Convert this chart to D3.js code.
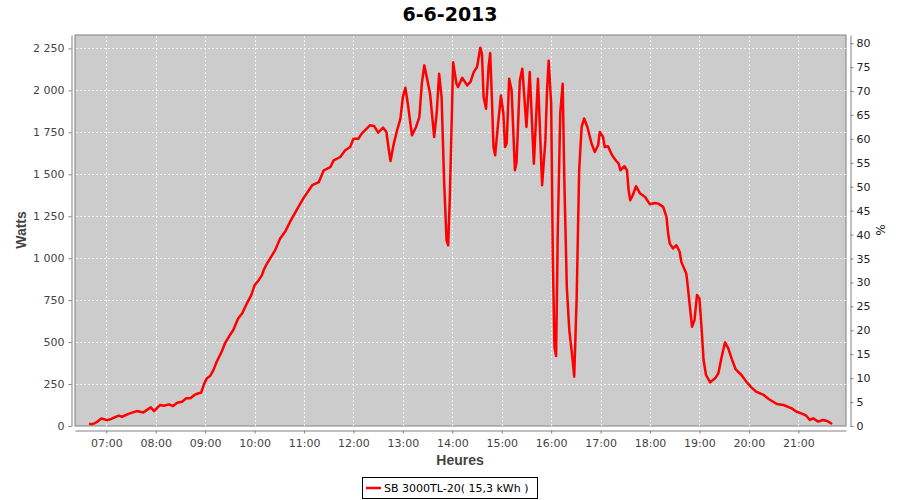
<!DOCTYPE html>
<html><head><meta charset="utf-8">
<script src="https://cdn.jsdelivr.net/npm/d3@7"></script>
<style>body{margin:0;background:#fff}svg{display:block;font-family:"DejaVu Sans",sans-serif}</style>
</head><body><svg id="c" width="900" height="500"></svg>
<script>
const title = "6-6-2013";
const seriesName = "SB 3000TL-20( 15,3 kWh )";
const times = ["06:39","06:44","06:49","06:54","07:01","07:06","07:15","07:19","07:27","07:37","07:45","07:54","07:58","08:05","08:10","08:16","08:21","08:26","08:32","08:37","08:42","08:47","08:52","08:55","08:59","09:02","09:06","09:10","09:14","09:20","09:24","09:30","09:34","09:40","09:45","09:51","09:56","10:00","10:05","10:09","10:11","10:15","10:20","10:25","10:31","10:37","10:43","10:51","10:59","11:10","11:18","11:24","11:32","11:36","11:44","11:50","11:56","12:00","12:06","12:10","12:20","12:25","12:30","12:36","12:40","12:43","12:45","12:49","12:53","12:57","13:00","13:03","13:06","13:11","13:16","13:20","13:23","13:26","13:29","13:33","13:38","13:41","13:44","13:47","13:50","13:53","13:55","13:57","13:59","14:01","14:05","14:07","14:12","14:18","14:22","14:26","14:30","14:34","14:36","14:38","14:41","14:44","14:46","14:48","14:50","14:52","14:55","14:59","15:02","15:04","15:06","15:09","15:12","15:16","15:18","15:22","15:25","15:30","15:34","15:39","15:44","15:49","15:53","15:55","15:57","16:00","16:02","16:04","16:06","16:08","16:11","16:14","16:16","16:19","16:22","16:25","16:28","16:31","16:34","16:37","16:40","16:44","16:49","16:53","16:57","16:59","17:03","17:05","17:09","17:14","17:19","17:22","17:24","17:29","17:32","17:34","17:36","17:39","17:43","17:48","17:54","18:00","18:06","18:10","18:16","18:20","18:22","18:24","18:28","18:32","18:36","18:38","18:44","18:45","18:48","18:51","18:54","18:57","19:00","19:03","19:05","19:08","19:13","19:19","19:23","19:27","19:31","19:35","19:39","19:44","19:51","19:57","20:03","20:09","20:18","20:24","20:34","20:42","20:52","20:58","21:06","21:10","21:14","21:18","21:24","21:30","21:35","21:41"];
const watts = [12,12,25,45,35,42,62,55,72,89,81,111,89,125,121,129,119,139,145,165,165,185,195,198,254,284,298,333,383,442,492,542,571,641,671,734,780,839,869,899,929,968,1008,1048,1117,1157,1216,1286,1355,1435,1454,1524,1543,1583,1603,1643,1663,1712,1712,1742,1792,1788,1748,1778,1752,1643,1579,1683,1762,1832,1960,2016,1921,1732,1782,1841,2040,2149,2079,1980,1722,1861,2099,1960,1464,1107,1077,1365,1762,2168,2040,2020,2075,2030,2050,2109,2139,2254,2218,1960,1891,2139,2222,1960,1663,1613,1772,1970,1861,1663,1683,2069,2000,1524,1573,2060,2129,1782,2109,1563,2070,1435,1702,2000,2177,1921,1008,472,417,1147,1861,2040,1464,829,571,442,294,770,1524,1782,1832,1782,1683,1633,1673,1752,1722,1663,1667,1613,1579,1563,1524,1548,1524,1405,1345,1375,1429,1385,1365,1321,1329,1325,1306,1246,1147,1087,1058,1077,1038,978,909,869,730,591,631,780,760,552,393,304,260,284,314,413,498,462,403,337,304,264,230,204,185,161,131,125,105,85,71,60,36,46,26,36,30,12];
const hourTicks = ["07:00","08:00","09:00","10:00","11:00","12:00","13:00","14:00","15:00","16:00","17:00","18:00","19:00","20:00","21:00"];
const wattTicks = [0,250,500,750,1000,1250,1500,1750,2000,2250];
const pctTicks = [0,5,10,15,20,25,30,35,40,45,50,55,60,65,70,75,80];

const parseT = d3.timeParse("%H:%M");
const data = times.map((t,i)=>({t:parseT(t), w:watts[i]}));
const svg = d3.select("#c");
const L=75, T=35, R=846, B=426;
const x = d3.scaleTime().domain([parseT("06:22"), d3.timeSecond.offset(parseT("21:57"),54)]).range([L,R]);
const y = d3.scaleLinear().domain([0,2330]).range([B,T]);
const y2 = d3.scaleLinear().domain([0,81.7]).range([B,T]);
const loc = d3.formatLocale({decimal:",",thousands:"\u00a0",grouping:[3],currency:["",""]});
const fmt = loc.format(",d");

svg.append("text").attr("x",450).attr("y",21).attr("text-anchor","middle")
  .attr("font-size",19).attr("font-weight","bold").attr("fill","#000").text(title);

svg.append("rect").attr("x",L).attr("y",T).attr("width",R-L).attr("height",B-T)
  .attr("fill","#cccccc").attr("stroke","#808080").attr("stroke-width",1);

const grid = svg.append("g").attr("stroke","#f2f2f2").attr("stroke-width",1).attr("stroke-dasharray","2,2");
hourTicks.forEach(h=>{const xx=Math.round(x(parseT(h)))+0.5;
  grid.append("line").attr("x1",xx).attr("x2",xx).attr("y1",T+1).attr("y2",B);});
wattTicks.forEach(v=>{const yy=Math.round(y(v))+0.5; if(v>0)
  grid.append("line").attr("x1",L+1).attr("x2",R).attr("y1",yy).attr("y2",yy);});

const line = d3.line().x(d=>x(d.t)).y(d=>y(d.w)).curve(d3.curveLinear);
svg.append("path").datum(data).attr("d",line).attr("fill","none")
  .attr("stroke","#ff0000").attr("stroke-width",2.5).attr("stroke-linejoin","round");

function styleAxis(g){
  g.select(".domain").attr("stroke","#808080");
  g.selectAll(".tick line").attr("stroke","#808080");
  g.selectAll(".tick text").attr("fill","#444").attr("font-size",11).attr("font-family","DejaVu Sans");
}
const xAxis = d3.axisBottom(x).tickValues(hourTicks.map(parseT)).tickFormat(d3.timeFormat("%H:%M")).tickSizeInner(3).tickSizeOuter(0).tickPadding(6);
svg.append("g").attr("transform","translate(0,430.5)").call(xAxis).call(styleAxis);
const yAxis = d3.axisLeft(y).tickValues(wattTicks).tickFormat(fmt).tickSizeInner(3).tickSizeOuter(0).tickPadding(4);
svg.append("g").attr("transform","translate(71.5,0)").call(yAxis).call(styleAxis);
const y2Axis = d3.axisRight(y2).tickValues(pctTicks).tickSizeInner(3).tickSizeOuter(0).tickPadding(3);
svg.append("g").attr("transform","translate(850.5,0)").call(y2Axis).call(styleAxis)
  .selectAll(".tick text").attr("fill","#222");

svg.append("text").attr("x",460).attr("y",465).attr("text-anchor","middle").attr("font-size",14)
  .attr("font-family","Liberation Sans").attr("font-weight","bold").attr("fill","#444").text("Heures");
svg.append("text").attr("transform","translate(26,230) rotate(-90)").attr("text-anchor","middle")
  .attr("font-size",14).attr("font-family","Liberation Sans").attr("font-weight","bold").attr("fill","#444").text("Watts");
svg.append("text").attr("transform","translate(876,230) rotate(90)").attr("text-anchor","middle")
  .attr("font-size",12).attr("fill","#222").text("%");

const lg = svg.append("g");
lg.append("rect").attr("x",362.5).attr("y",477.5).attr("width",175).attr("height",21)
  .attr("fill","#fff").attr("stroke","#000").attr("stroke-width",1);
lg.append("line").attr("x1",366).attr("x2",381).attr("y1",488).attr("y2",488).attr("stroke","#ff0000").attr("stroke-width",2.5);
lg.append("text").attr("x",384).attr("y",492).attr("font-size",11).attr("fill","#000").text(seriesName);
</script></body></html>
